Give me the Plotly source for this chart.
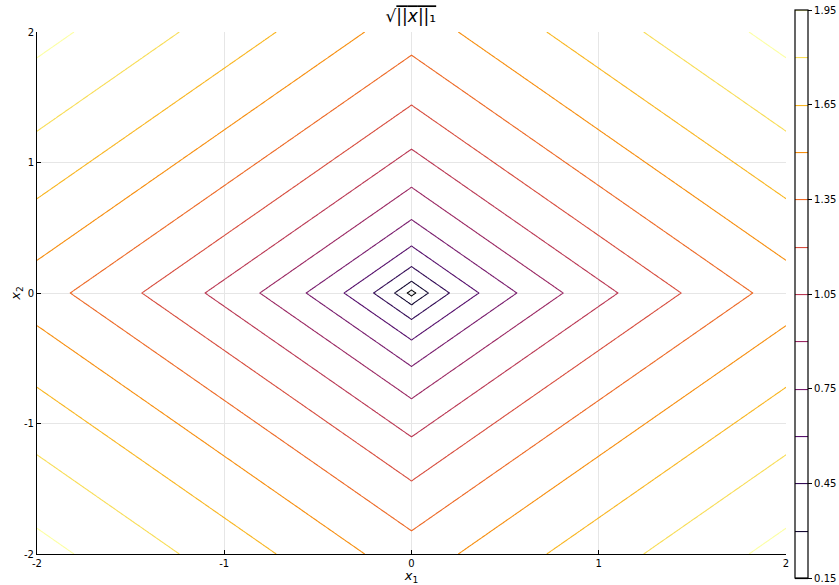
import numpy as np
import plotly.graph_objects as go

# contour levels of sqrt(||x||_1)
level_start = 0.15
level_end = 1.95
level_step = 0.15
x_range = [-2, 2]
y_range = [-2, 2]
tick_vals = [-2, -1, 0, 1, 2]
cbar_ticks = [0.15, 0.45, 0.75, 1.05, 1.35, 1.65, 1.95]

x1 = np.linspace(x_range[0], x_range[1], 401)
x2 = np.linspace(y_range[0], y_range[1], 401)
X1, X2 = np.meshgrid(x1, x2)
Z = np.sqrt(np.abs(X1) + np.abs(X2))

# nudge the end ticks a hair inside the bar so float rounding keeps them
cbar_tickvals = [v + 1e-4 if i == 0 else (v - 1e-4 if i == len(cbar_ticks) - 1 else v)
                 for i, v in enumerate(cbar_ticks)]

fig = go.Figure()
fig.add_trace(go.Contour(
    x=x1, y=x2, z=Z,
    colorscale="Inferno", zmin=level_start, zmax=level_end,
    contours=dict(start=level_start, end=level_end + 1e-6, size=level_step, coloring="lines"),
    line=dict(width=1.1),
    colorbar=dict(
        x=1.012, xanchor="left", y=0.498, yanchor="middle", len=1.088,
        xpad=0, ypad=0,
        thickness=13, outlinecolor="black", outlinewidth=1.2,
        tickvals=cbar_tickvals, ticktext=[f"{v:.2f}" for v in cbar_ticks],
        ticks="outside", ticklen=4, tickcolor="black",
        tickfont=dict(size=10, color="black"),
    ),
))

axis_common = dict(
    showgrid=True, gridcolor="#e6e6e6", gridwidth=1,
    showline=True, linecolor="black", linewidth=1,
    ticks="inside", ticklen=4, tickcolor="black",
    tickvals=tick_vals, ticktext=[str(v) for v in tick_vals],
    tickfont=dict(size=10, color="black"),
    zeroline=False, mirror=False, automargin=False,
)

fig.update_layout(
    width=839, height=585,
    margin=dict(l=37, r=53, t=32, b=31, autoexpand=False),
    paper_bgcolor="white", plot_bgcolor="white",
    font=dict(family="DejaVu Sans", color="black"),
    title=dict(
        text="√<span style='text-decoration:overline'>||<i>x</i>||₁</span>",
        x=0.4897, xanchor="center", y=0.972, yanchor="middle",
        font=dict(size=17),
    ),
    xaxis=dict(range=x_range, title=dict(text="<i>x</i><sub>1</sub>", standoff=0, font=dict(size=13)), **axis_common),
    yaxis=dict(range=y_range, title=dict(text="<i>x</i><sub>2</sub>", standoff=0, font=dict(size=13)), **axis_common),
)

fig.write_html(
    "out.html",
    config={"displayModeBar": False},
    post_script="document.body.style.margin='0';document.body.style.overflow='hidden';",
)
